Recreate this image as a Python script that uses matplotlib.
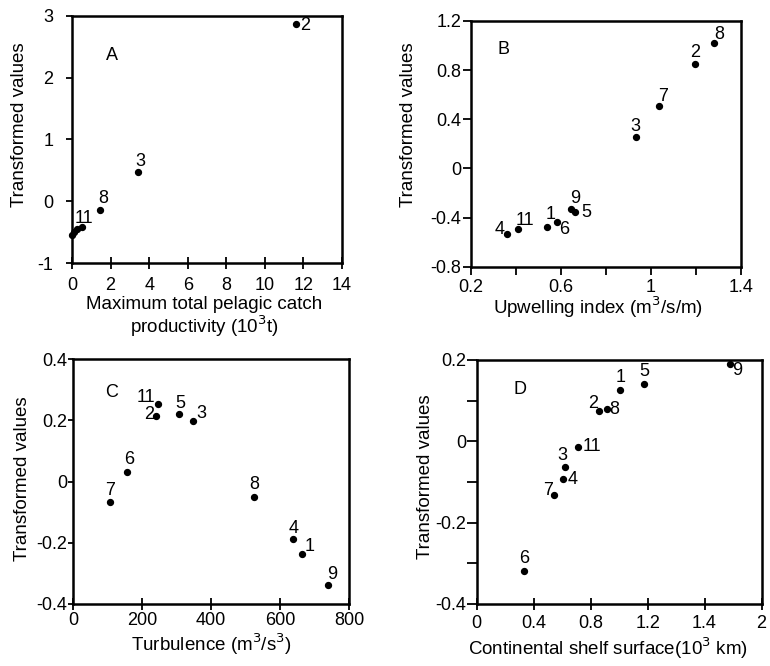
import matplotlib
matplotlib.use("Agg")
import matplotlib.pyplot as plt

plt.rcParams['font.family'] = ['Liberation Sans', 'DejaVu Sans']
plt.rcParams['font.size'] = 13
plt.rcParams['axes.unicode_minus'] = False

# panel A: maximum total pelagic catch productivity
a_ids = ["", "", "", "11", "8", "3", "2"]
a_x = [0.0, 0.1, 0.25, 0.5, 1.45, 3.4, 11.6]
a_y = [-0.55, -0.49, -0.45, -0.42, -0.14, 0.48, 2.87]

# panel B: upwelling index
b_ids = ["4", "11", "1", "6", "9", "5", "3", "7", "2", "8"]
b_x = [0.36, 0.41, 0.54, 0.584, 0.644, 0.664, 0.932, 1.036, 1.196, 1.28]
b_y = [-0.535, -0.496, -0.475, -0.44, -0.33, -0.358, 0.258, 0.51, 0.85, 1.02]

# panel C: turbulence
c_ids = ["7", "6", "2", "11", "5", "3", "8", "4", "1", "9"]
c_x = [106, 156, 239, 247, 307, 346, 525, 638, 663, 738]
c_y = [-0.066, 0.032, 0.215, 0.253, 0.221, 0.199, -0.049, -0.188, -0.238, -0.338]

# panel D: continental shelf surface
d_ids = ["6", "7", "4", "3", "11", "2", "8", "1", "5", "9"]
d_x = [0.334, 0.545, 0.606, 0.622, 0.709, 0.858, 0.912, 1.008, 1.172, 1.778]
d_y = [-0.318, -0.133, -0.093, -0.062, -0.013, 0.075, 0.079, 0.125, 0.141, 0.189]

# label offsets in pixels (right, up)
a_off = {"2": (9, -1), "3": (3, 10), "8": (3, 11), "11": (2, 9)}
b_off = {"8": (5, 9), "2": (0, 11), "7": (4, 9), "3": (0, 10), "9": (4, 10),
         "5": (11, 0), "6": (7, -7), "1": (3, 12), "11": (7, 9), "4": (-7, 5)}
c_off = {"11": (-12, 7), "2": (-7, 1), "5": (1, 11), "3": (9, 7), "6": (2, 12),
         "7": (0, 11), "8": (0, 12), "4": (0, 11), "1": (8, 8), "9": (5, 11)}
d_off = {"9": (7, -6), "5": (1, 12), "1": (0, 13), "2": (-6, 7), "8": (8, 0),
         "11": (14, 0), "3": (-3, 11), "4": (10, 0), "7": (-6, 5), "6": (0, 12)}

fig = plt.figure(figsize=(7.7, 6.66), dpi=100)
axA = fig.add_axes([0.0935, 0.6051, 0.3506, 0.3709])
axB = fig.add_axes([0.6117, 0.5996, 0.3506, 0.3689])
axC = fig.add_axes([0.0952, 0.0931, 0.358, 0.3674])
axD = fig.add_axes([0.619, 0.0931, 0.370, 0.3664])


def panel(ax, xs, ys, ids, offs, letter, lpos):
    ax.scatter(xs, ys, s=18, c='black', zorder=3, clip_on=False)
    for x, y, t in zip(xs, ys, ids):
        if t:
            ax.annotate(t, (x, y), xytext=offs[t], textcoords='offset pixels',
                        ha='center', va='center', fontsize=13)
    ax.text(lpos[0], lpos[1], letter, transform=ax.transAxes,
            ha='center', va='center', fontsize=13)
    for s in ax.spines.values():
        s.set_linewidth(1.8)
    ax.set_ylabel("Transformed values", fontsize=13.5, va='center')


panel(axA, a_x, a_y, a_ids, a_off, "A", (0.148, 0.842))
axA.set_xlim(0, 14)
axA.set_ylim(-1, 3)
axA.set_xticks(range(0, 15, 2))
axA.set_yticks([-1, 0, 1, 2, 3])
axA.tick_params(axis='y', direction='out', length=4.5, width=1.3, pad=9)
axA.tick_params(axis='x', direction='inout', length=8, width=1.3, pad=6)
axA.set_xlabel("Maximum total pelagic catch\nproductivity (10$^3$t)",
               fontsize=13.5, va='center', linespacing=1.05)
axA.xaxis.set_label_coords(0.49, -0.22)
axA.yaxis.set_label_coords(-0.193, 0.559)

panel(axB, b_x, b_y, b_ids, b_off, "B", (0.119, 0.882))
axB.set_xlim(0.2, 1.4)
axB.set_ylim(-0.8, 1.2)
axB.set_xticks([0.2, 0.6, 1.0, 1.4])
axB.set_xticklabels(["0.2", "0.6", "1", "1.4"])
axB.set_xticks([0.4, 0.8, 1.2], minor=True)
axB.tick_params(axis='x', which='both', direction='out', length=6, width=1.3, pad=3)
axB.set_yticks([-0.8, -0.4, 0, 0.4, 0.8, 1.2])
axB.set_yticklabels(["-0.8", "-0.4", "0", "0.4", "0.8", "1.2"])
axB.tick_params(axis='y', direction='out', length=5.8, width=1.3, pad=1)
axB.set_xlabel("Upwelling index (m$^3$/s/m)", fontsize=13.5, va='center')
axB.xaxis.set_label_coords(0.47, -0.165)
axB.yaxis.set_label_coords(-0.233, 0.577)

panel(axC, c_x, c_y, c_ids, c_off, "C", (0.137, 0.864))
axC.set_xlim(0, 800)
axC.set_ylim(-0.4, 0.4)
axC.set_xticks([0, 200, 400, 600, 800])
axC.set_yticks([-0.4, -0.2, 0, 0.2, 0.4])
axC.set_yticklabels(["-0.4", "-0.2", "0", "0.2", "0.4"])
axC.tick_params(axis='y', direction='out', length=3.6, width=1.3, pad=1)
axC.tick_params(axis='x', direction='inout', length=8, width=1.3, pad=2)
axC.set_xlabel("Turbulence (m$^3$/s$^3$)", fontsize=13.5, va='center')
axC.xaxis.set_label_coords(0.5, -0.165)
axC.yaxis.set_label_coords(-0.186, 0.513)

panel(axD, d_x, d_y, d_ids, d_off, "D", (0.152, 0.877))
axD.set_xlim(0, 2)
axD.set_ylim(-0.4, 0.2)
axD.set_xticks([0, 0.4, 0.8, 1.2, 1.6, 2.0])
axD.set_xticklabels(["0", "0.4", "0.8", "1.2", "1.4", "2"])
axD.set_yticks([-0.4, -0.2, 0, 0.2])
axD.set_yticklabels(["-0.4", "-0.2", "0", "0.2"])
axD.set_yticks([-0.3, -0.1, 0.1], minor=True)
axD.tick_params(axis='y', which='both', direction='out', length=7, width=1.3, pad=0.5)
axD.tick_params(axis='x', direction='inout', length=8, width=1.3, pad=4)
axD.set_xlabel("Continental shelf surface(10$^3$ km)", fontsize=13.5, va='center')
axD.xaxis.set_label_coords(0.461, -0.18)
axD.yaxis.set_label_coords(-0.181, 0.52)

fig.savefig("out.png", dpi=100)
